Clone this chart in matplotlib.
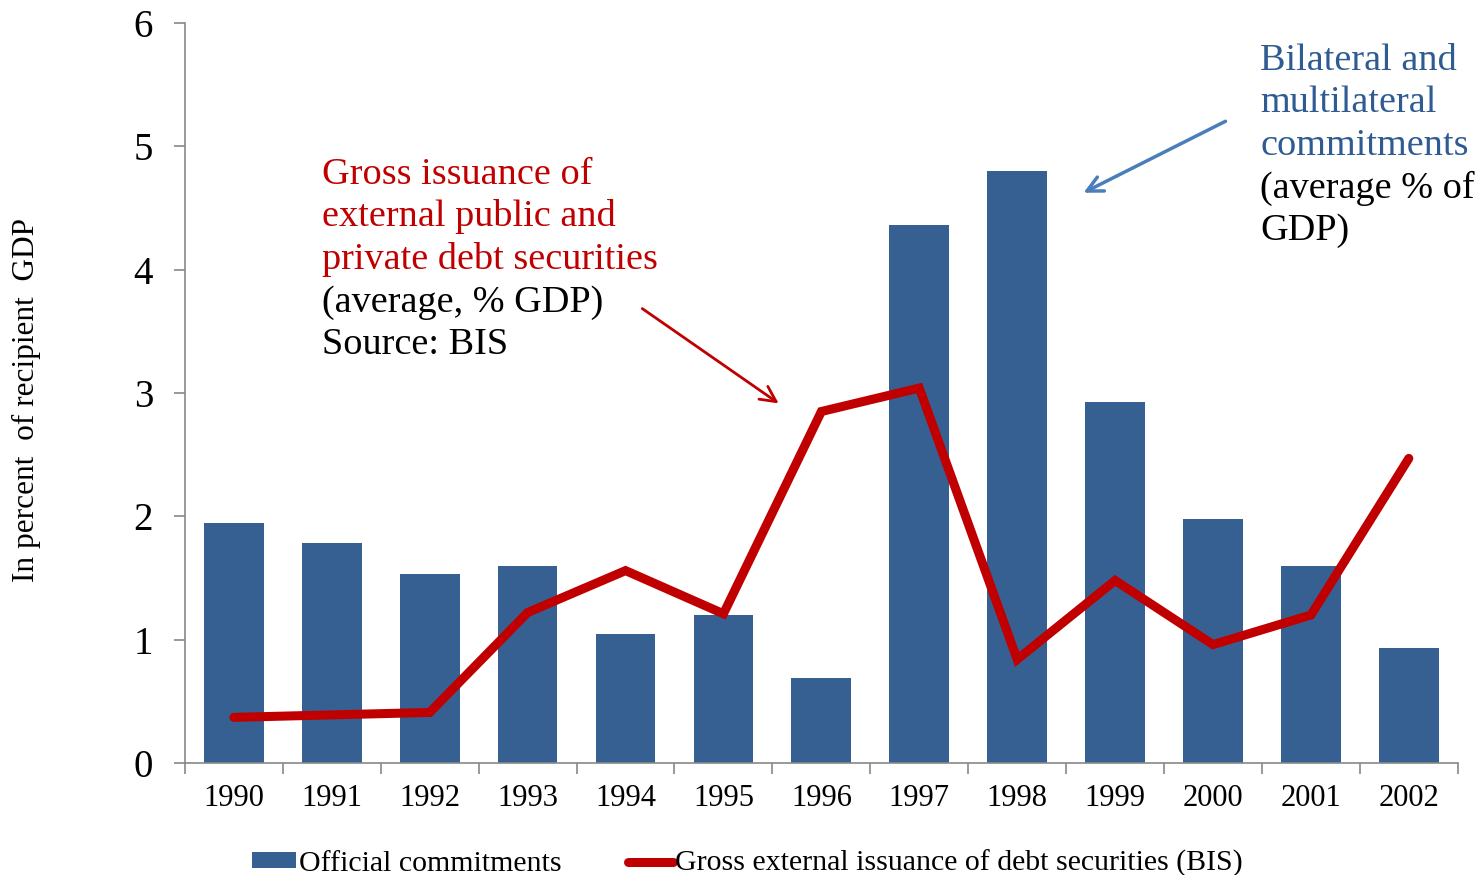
import matplotlib.pyplot as plt
from matplotlib.patches import Patch
from matplotlib.lines import Line2D
import numpy as np

plt.rcParams['font.family'] = ['Liberation Serif', 'DejaVu Serif']

# data (percent of recipient GDP)
years = ['1990', '1991', '1992', '1993', '1994', '1995', '1996',
         '1997', '1998', '1999', '2000', '2001', '2002']
official = [1.95, 1.78, 1.53, 1.60, 1.05, 1.20, 0.69,
            4.36, 4.80, 2.93, 1.98, 1.60, 0.93]
bis_issuance = [0.37, 0.39, 0.41, 1.22, 1.56, 1.21, 2.85,
                3.04, 0.84, 1.48, 0.96, 1.20, 2.47]

red_note = ['Gross issuance of', 'external public and', 'private debt securities']
red_note_sub = ['(average, % GDP)', 'Source: BIS']
blue_note = ['Bilateral and', 'multilateral', 'commitments']
blue_note_sub = ['(average % of', 'GDP)']

bar_color = '#376092'
line_color = '#C00000'
note_blue = '#2E5B91'
axis_color = '#888888'

W, H = 1483, 875
fig = plt.figure(figsize=(W / 100, H / 100), dpi=100)
ax = fig.add_axes([0.1247, 0.128, 0.8583, 0.8457])


def fpos(px, py):
    # pixel position (from top-left) -> figure fraction
    return px / W, 1 - py / H


x = np.arange(len(years))
ax.bar(x, official, width=0.61, color=bar_color, zorder=2)
ax.plot(x, bis_issuance, color=line_color, lw=6.5, solid_capstyle='round',
        solid_joinstyle='miter', zorder=3)

ax.set_xlim(-0.5, len(years) - 0.5)
ax.set_ylim(0, 6)
ax.set_yticks(range(7))
ax.tick_params(axis='y', labelsize=28, length=8, width=1.2, color=axis_color,
               direction='out', pad=15)
# category ticks sit between the bars
ax.set_xticks(np.arange(-0.5, len(years), 1.0))
ax.set_xticklabels([])
ax.set_xticks(x, minor=True)
ax.set_xticklabels(years, minor=True)
ax.tick_params(axis='x', which='major', length=8, width=1.2, color=axis_color)
ax.tick_params(axis='x', which='minor', length=0, labelsize=22, pad=15)

for side in ['top', 'right']:
    ax.spines[side].set_visible(False)
for side in ['left', 'bottom']:
    ax.spines[side].set_color(axis_color)
    ax.spines[side].set_linewidth(1.2)

fig.text(*fpos(26, 400), 'In percent  of recipient  GDP', fontsize=22.5,
         rotation=90, ha='center', va='center')

# text notes, one line at a time (baselines in pixels)
step = 42.5
for i, line in enumerate(red_note + red_note_sub):
    col = line_color if i < len(red_note) else 'black'
    fig.text(*fpos(322, 184 + i * step), line, color=col, fontsize=27.5,
             ha='left', va='baseline')
for i, line in enumerate(blue_note + blue_note_sub):
    col = note_blue if i < len(blue_note) else 'black'
    fig.text(*fpos(1260, 70 + i * step), line, color=col, fontsize=27.5,
             ha='left', va='baseline')

ax.annotate('', xy=fpos(781, 405), xytext=fpos(640, 307),
            xycoords='figure fraction', textcoords='figure fraction',
            arrowprops=dict(arrowstyle='->', color=line_color, lw=2,
                            mutation_scale=28))
ax.annotate('', xy=fpos(1081, 194), xytext=fpos(1228, 120),
            xycoords='figure fraction', textcoords='figure fraction',
            arrowprops=dict(arrowstyle='->', color='#4A7EBB', lw=2.5,
                            mutation_scale=28))

handles = [Patch(facecolor=bar_color, edgecolor='none'),
           Line2D([0], [0], color=line_color, lw=6.5, solid_capstyle='round')]
labels = ['Official commitments', 'Gross external issuance of debt securities (BIS)']
fig.legend(handles, labels, loc='center', bbox_to_anchor=(0.504, 0.013),
           ncol=2, frameon=False, fontsize=21.5, handlelength=1.5,
           handleheight=0.45, handletextpad=0.1, columnspacing=2.2)

fig.savefig('out.png', dpi=100)
